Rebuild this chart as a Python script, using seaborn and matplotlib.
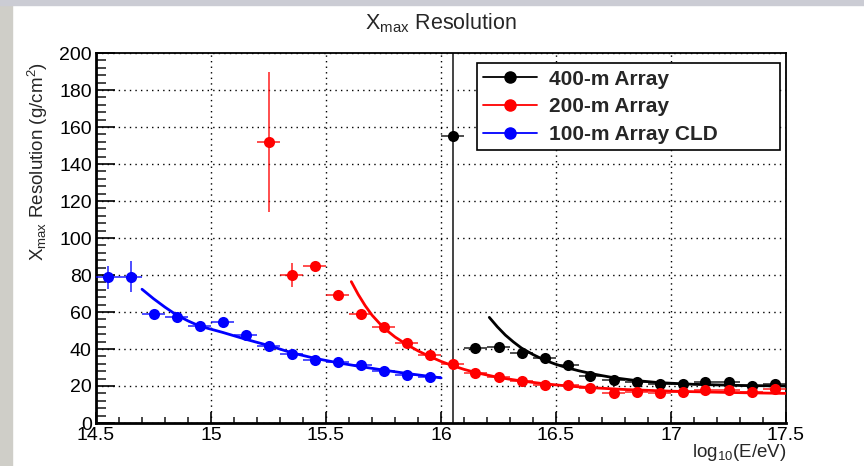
import matplotlib
matplotlib.use("Agg")
import matplotlib.pyplot as plt
from matplotlib.lines import Line2D
from matplotlib.patches import Rectangle
from matplotlib.ticker import MultipleLocator, FuncFormatter
import seaborn as sns
import pandas as pd

# ---------------- data ----------------
blue_x = [14.55, 14.65, 14.75, 14.85, 14.95, 15.05, 15.15, 15.25, 15.35, 15.45,
          15.55, 15.65, 15.75, 15.85, 15.95]
blue_y = [78.8, 79.1, 58.9, 57.5, 52.4, 54.8, 47.4, 41.6, 37.1, 34.1,
          33.2, 31.5, 28.3, 26.1, 24.7]
blue_yerr = [6.3, 8.4, 1.5, 1.5, 1.5, 1.5, 1.2, 1.0, 1.0, 1.0,
             1.0, 1.0, 1.0, 1.0, 1.0]

red_x = [15.25, 15.35, 15.45, 15.55, 15.65, 15.75, 15.85, 15.95, 16.05, 16.15,
         16.25, 16.35, 16.45, 16.55, 16.65, 16.75, 16.85, 16.95, 17.05, 17.15,
         17.25, 17.35, 17.45]
red_y = [151.9, 80.2, 85.0, 69.0, 58.9, 51.7, 43.1, 36.8, 31.9, 26.8,
         24.7, 22.5, 20.5, 20.4, 18.9, 16.4, 16.9, 16.4, 16.6, 17.8,
         17.8, 16.6, 18.4]
red_yerr = [37.6, 6.5, 2.0, 1.5, 1.5, 1.5, 1.2, 1.0, 1.0, 1.0,
            1.0, 1.0, 1.0, 1.0, 1.0, 1.0, 1.0, 1.0, 1.0, 1.0,
            1.0, 1.0, 1.0]

black_x = [16.05, 16.15, 16.25, 16.35, 16.45, 16.55, 16.65, 16.75, 16.85, 16.95,
           17.05, 17.15, 17.25, 17.35, 17.45]
black_y = [155.1, 40.7, 41.3, 37.7, 35.3, 31.4, 25.6, 23.2, 22.0, 20.9,
           21.1, 22.0, 22.3, 20.2, 20.9]
black_yerr = [1.5, 1.2, 1.2, 1.0, 1.0, 1.0, 1.0, 1.0, 1.0, 1.0,
              1.0, 1.0, 1.0, 1.0, 1.0]

bin_half_width = 0.05

# fit curves
blue_fit_x = [14.70, 14.75, 14.80, 14.85, 14.90, 14.95, 15.05, 15.15, 15.25, 15.35,
              15.45, 15.55, 15.65, 15.75, 15.85, 15.95, 16.00]
blue_fit_y = [72.3, 67.2, 62.6, 58.4, 55.2, 52.4, 49.0, 45.3, 41.9, 38.0,
              35.0, 32.6, 30.5, 28.6, 26.8, 25.2, 24.4]

red_fit_x = [15.61, 15.64, 15.67, 15.70, 15.75, 15.80, 15.85, 15.90, 15.95, 16.00,
             16.05, 16.10, 16.15, 16.25, 16.35, 16.45, 16.55, 16.65, 16.80, 17.00,
             17.25, 17.50]
red_fit_y = [76.4, 69.5, 63.5, 58.3, 51.5, 46.5, 42.5, 39.0, 36.0, 33.3,
             31.0, 29.0, 27.3, 24.6, 22.7, 21.2, 20.0, 19.1, 18.1, 17.2,
             16.5, 16.0]

black_fit_x = [16.21, 16.245, 16.28, 16.315, 16.35, 16.40, 16.45, 16.50, 16.55, 16.60,
               16.65, 16.70, 16.75, 16.85, 16.95, 17.10, 17.30, 17.50]
black_fit_y = [57.1, 52.0, 47.5, 43.8, 40.5, 37.0, 34.0, 31.7, 29.8, 28.2,
               26.8, 25.6, 24.5, 22.9, 21.8, 20.9, 20.3, 20.0]

series_labels = ["400-m Array", "200-m Array", "100-m Array CLD"]
series_colors = ["#000000", "#ff0000", "#0000ff"]

title_text = r"X$_{\mathregular{max}}$ Resolution"
ylabel_text = r"X$_{\mathregular{max}}$ Resolution (g/cm$^{\mathregular{2}}$)"
xlabel_text = r"log$_{\mathregular{10}}$(E/eV)"

divider_x = 16.05

# ---------------- style ----------------
sns.set_theme(style="white")
plt.rcParams["font.family"] = ["Liberation Sans", "DejaVu Sans"]
plt.rcParams["mathtext.default"] = "regular"

fig = plt.figure(figsize=(8.64, 4.66), dpi=100)
ax = fig.add_axes([96 / 864, 1 - 423 / 466, 690 / 864, 370 / 466])

# screenshot frame strips
fig.patches.append(Rectangle((0, 0), 12 / 864, 1, transform=fig.transFigure,
                             color="#cfcec8", zorder=-10))
fig.patches.append(Rectangle((0, 1 - 5 / 466), 1, 5 / 466, transform=fig.transFigure,
                             color="#cbccd4", zorder=-10))

# fit curves
fits = [
    (black_fit_x, black_fit_y, series_colors[0]),
    (red_fit_x, red_fit_y, series_colors[1]),
    (blue_fit_x, blue_fit_y, series_colors[2]),
]
for fx, fy, c in fits:
    df = pd.DataFrame({"x": fx, "y": fy})
    sns.lineplot(data=df, x="x", y="y", ax=ax, color=c, lw=2.0, sort=False,
                 estimator=None, zorder=3)

# data points with error bars
pts = [
    (black_x, black_y, black_yerr, series_colors[0]),
    (red_x, red_y, red_yerr, series_colors[1]),
    (blue_x, blue_y, blue_yerr, series_colors[2]),
]
for px, py, pe, c in pts:
    ax.errorbar(px, py, xerr=bin_half_width, yerr=pe, fmt="none", ecolor=c,
                elinewidth=1.3, capsize=0, alpha=0.75, zorder=4)
    df = pd.DataFrame({"x": px, "y": py})
    sns.scatterplot(data=df, x="x", y="y", ax=ax, color=c, s=64, edgecolor=c,
                    linewidth=0, zorder=5)

# vertical divider
ax.plot([divider_x, divider_x], [0, 200], color="#444444", lw=1.4, zorder=2)

# axes
ax.set_xlim(14.5, 17.5)
ax.set_ylim(0, 200)
ax.xaxis.set_major_locator(MultipleLocator(0.5))
ax.xaxis.set_minor_locator(MultipleLocator(0.1))
ax.yaxis.set_major_locator(MultipleLocator(20))
ax.yaxis.set_minor_locator(MultipleLocator(4))
ax.xaxis.set_major_formatter(FuncFormatter(lambda v, p: f"{v:g}"))
ax.yaxis.set_major_formatter(FuncFormatter(lambda v, p: f"{v:g}"))

ax.tick_params(axis="x", which="major", direction="in", length=8, width=1.2,
               labelsize=14, pad=3, colors="black", top=False, bottom=True)
ax.tick_params(axis="x", which="minor", direction="in", length=4, width=1.2,
               top=False, bottom=True)
ax.tick_params(axis="y", which="major", direction="in", length=14, width=1.2,
               labelsize=14, pad=3, colors="black", left=True, right=False)
ax.tick_params(axis="y", which="minor", direction="in", length=7, width=1.2,
               left=True, right=False)

ax.grid(True, which="major", color="black", lw=1.0, linestyle=(0, (1, 3)))
for s in ax.spines.values():
    s.set_color("black")
    s.set_linewidth(1.3)
ax.spines["left"].set_linewidth(2.0)
ax.spines["bottom"].set_linewidth(2.0)

ax.set_xlabel("")
ax.set_ylabel("")
ax.text(1.0, -0.052, xlabel_text, transform=ax.transAxes, ha="right", va="top",
        fontsize=13.5)
ax.text(-0.084, 0.976, ylabel_text, transform=ax.transAxes, ha="center", va="top",
        rotation=90, fontsize=13.5)
ax.set_title(title_text, fontsize=15.5, pad=17)

# legend
handles = [Line2D([0], [0], color=c, lw=1.3, marker="o", markersize=8,
                  markerfacecolor=c, markeredgecolor=c) for c in series_colors]
leg = ax.legend(handles, series_labels, loc="upper left",
                bbox_to_anchor=(0.552, 0.740, 0.439, 0.232), mode="expand",
                borderaxespad=0, frameon=True, fancybox=False, framealpha=1,
                edgecolor="black", handlelength=2.6, handletextpad=0.55,
                borderpad=0.3, labelspacing=0.42,
                prop={"weight": "bold", "size": 15, "family": "Liberation Sans"})
leg.get_frame().set_linewidth(1.2)
leg.set_zorder(10)

fig.savefig("out.png", dpi=100)
